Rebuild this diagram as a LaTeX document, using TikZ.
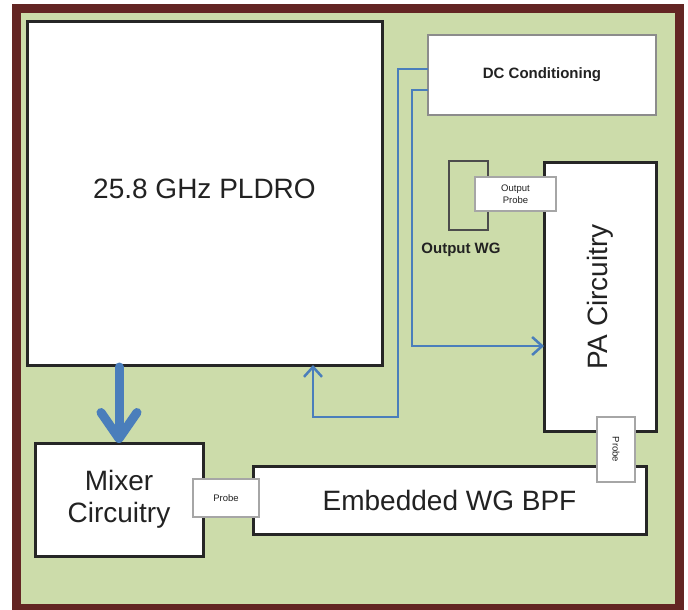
\documentclass[tikz,border=0pt]{standalone}
\usepackage{fontspec}
\setmainfont{Liberation Sans}
\usetikzlibrary{arrows.meta}
\definecolor{boardgreen}{RGB}{204,220,170}
\definecolor{framered}{RGB}{99,37,35}
\definecolor{dcblue}{RGB}{74,126,187}
\definecolor{inkgray}{RGB}{34,34,34}

\begin{document}
\begin{tikzpicture}[x=1pt, y=-1pt, inner sep=0pt, outer sep=0pt, text=inkgray,
  block/.style={draw=black!85, line width=3pt, fill=white, align=center, font=\fontsize{28}{32}\selectfont},
  probebox/.style={draw=black!35, line width=1.5pt, fill=white, align=center, font=\fontsize{9.5}{11.5}\selectfont},
  bias/.style={draw=dcblue, line width=2.5pt, -{Straight Barb[length=10pt, width=18pt]}},
  lo/.style={draw=dcblue, line width=9pt, line cap=round, -{Straight Barb[length=26pt, width=36pt, round]}}]
  \useasboundingbox (0,0) rectangle (688,610);
  % board and frame
  \fill[framered] (12,4) rectangle (684,610);
  \fill[boardgreen] (21,13) rectangle (675,604);
  % main blocks
  \node[block, minimum width=355pt, minimum height=343pt] (pldro) at (204.5,193.5) {};
  \node[font=\fontsize{28}{32}\selectfont] (pldrotxt) at (204.5,189) {25.8 GHz PLDRO};
  \node[draw=black!45, line width=2pt, fill=white, minimum width=228pt, minimum height=80pt, font=\bfseries\fontsize{15}{18}\selectfont] (dc) at (542,75) {DC Conditioning};
  \node[block, minimum width=112pt, minimum height=269pt] (pa) at (600,296.5) {};
  \node[rotate=90, font=\fontsize{28}{32}\selectfont] (patxt) at (600,297) {PA Circuitry};
  \node[block, minimum width=393pt, minimum height=68pt] (bpf) at (449.5,500) {Embedded WG BPF};
  \node[block, minimum width=168pt, minimum height=113pt] (mixer) at (119,499.5) {Mixer\\Circuitry};
  % output waveguide
  \node[draw=black!70, line width=2pt, minimum width=39pt, minimum height=69pt] (owg) at (468.5,195.5) {};
  \node[font=\bfseries\fontsize{15}{18}\selectfont] (owgtxt) at (461,250) {Output WG};
  % probes
  \node[probebox, minimum width=81pt, minimum height=34pt] (oprobe) at (515.5,194) {Output\\Probe};
  \node[probebox, minimum width=66pt, minimum height=38pt] (mprobe) at (226,498) {Probe};
  \node[probebox, minimum width=65pt, minimum height=38pt, rotate=-90] (pprobe) at (616,449.5) {Probe};
  % bias lines
  \draw[bias] ([yshift=6pt]dc.west) -| (398,417) -| ([xshift=108.5pt]pldro.south);
  \draw[bias] ([yshift=-15pt]dc.west) -| (412,346) -- (pa.west |- 412,346);
  % LO feed
  \draw[lo] ([yshift=-2pt]mixer.north |- pldro.south) -- (mixer.north);
\end{tikzpicture}
\end{document}
